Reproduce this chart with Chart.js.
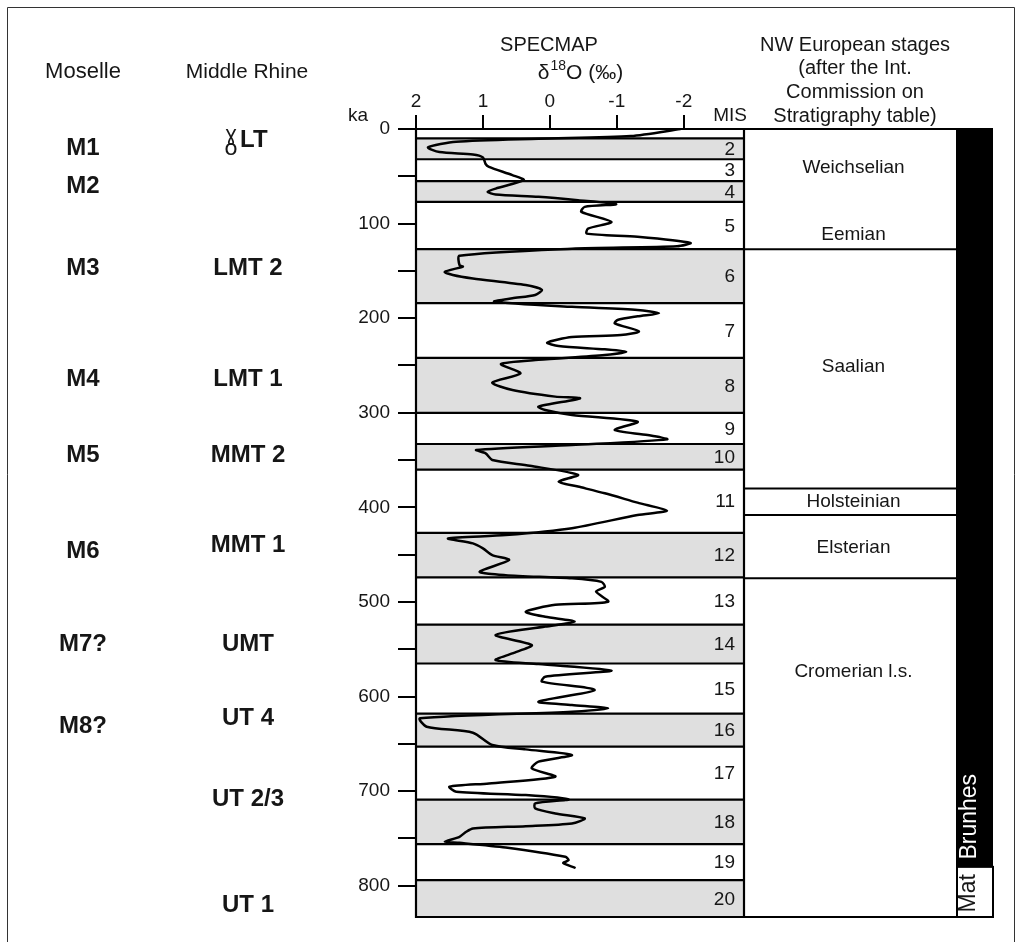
<!DOCTYPE html>
<html><head><meta charset="utf-8">
<script src="https://cdn.jsdelivr.net/npm/chart.js@4.4.1/dist/chart.umd.min.js"></script>
<style>html,body{margin:0;padding:0;background:#fff;overflow:hidden}canvas{display:block}</style>
</head><body>
<canvas id="c" width="1022" height="942"></canvas>
<script>
// ---- data ----
const ageKa = [0,7.4,10.2,13.4,19.4,24.4,26.9,30,37,40,48.8,54,63,66.4,69.3,71.7,75.3,79.5,82.3,87.6,98.2,105.3,110.6,114,120.5,124,126.5,134,
  144,145.5,151,154.3,158,165,170,175.5,179,182.5,188,191.3,194.8,198,201.9,205.4,214,217.8,220,225.9,229.4,232.9,235.4,239,244,248.4,258.3,268,275.9,282.9,284.7,293.5,297,302.3,309.4,318.2,323.5,328.1,334,339.3,342.9,349.9,
  356,365.6,372.8,378,385.1,395,403.5,408,422,429.3,432.8,438,443.3,450.4,455.7,468,471.6,475,478.7,484,489,499.7,503,510.3,515.6,520.8,526,535,545.5,554.3,561.4,565.6,572.5,
  579,584.2,593,605.4,608.9,612.4,616,623,631.8,638.2,651.2,655.8,661.8,668.8,675.9,684.7,691.8,695.3,700.6,704.1,708.7,712.9,718.2,723.5,728.8,734.1,737,739.4,742.9,748.2,753.5,754.6,759.5,769.4,773,776,780.8];
const d18O = [-1.95,-1.21,0.17,1.4,1.82,1.65,1.15,1.0,0.96,0.91,0.56,0.39,0.81,0.93,0.81,0.17,-0.42,-0.99,-0.52,-0.47,-0.92,-0.57,-0.55,-1.31,-2.1,-1.9,-0.33,1.35,
  1.35,1.3,1.57,1.45,1.15,0.36,0.12,0.22,0.56,0.83,-0.33,-1.31,-1.63,-1.31,-1.01,-0.97,-1.33,-1.06,-0.33,0.04,-0.13,-0.82,-1.14,-0.82,0.17,0.73,0.44,0.86,0.56,-0.08,-0.45,0.17,0.07,-0.33,-1.31,-0.97,-1.46,-1.75,-0.33,1.1,0.96,0.86,
  0.3,-0.42,-0.13,-0.42,-0.82,-1.31,-1.75,-1.31,-0.33,0.66,1.52,1.15,1.0,0.86,0.61,1.05,0.66,-0.33,-0.77,-0.82,-0.69,-0.87,-0.08,0.36,0.07,-0.37,0.07,0.81,0.27,0.56,0.81,0.17,-0.92,
  0.07,0.12,-0.67,0.17,-0.33,-0.87,-0.33,1.94,1.84,1.15,0.86,0.36,-0.33,0.17,0.27,-0.08,0.91,1.5,1.4,0.36,-0.28,0.22,0.22,-0.08,-0.52,-0.33,0.36,1.15,1.25,1.35,1.57,1.35,0.66,-0.23,-0.28,-0.2,-0.37];
const yTickValues = [0,50,100,150,200,250,300,350,400,450,500,550,600,650,700,750,800];
const xTickValues = [2,1,0,-1,-2];
const misBounds = [0,10,32,55,77,127,184,242,300,333,360,427,474,524,565,618,653,709,756,794,833];
const misNames = ['','2','3','4','5','6','7','8','9','10','11','12','13','14','15','16','17','18','19','20'];
const stageBounds = [127,380,408,475];
const stageNames = ['Weichselian','Eemian','Saalian','Holsteinian','Elsterian','Cromerian l.s.'];
const stageLabelAge = [41,112,251,394,443,574];
const moselleNames = ['M1','M2','M3','M4','M5','M6','M7?','M8?'];
const moselleAge = [21,61,147,265,345,447,545,631];
const rhineNames = ['LT','LMT 2','LMT 1','MMT 2','MMT 1','UMT','UT 4','UT 2/3','UT 1'];
const rhineAge = [13,147,265,345,440,545,623,709,821];
const chronNames = ['Brunhes','Mat'];
const chronBounds = [0,780,833];
const chronLabelAge = [727,808];

// ---- drawing ----
const FONT = '"Liberation Sans", Arial, Helvetica, sans-serif';
const INK = '#161616';
function txt(ctx, s, x, y, size, opts = {}) {
  ctx.save();
  ctx.font = (opts.bold ? 'bold ' : '') + size + 'px ' + (opts.family || FONT);
  ctx.fillStyle = opts.color || INK;
  ctx.textAlign = opts.align || 'center';
  ctx.textBaseline = opts.baseline || 'middle';
  if (opts.rotate) { ctx.translate(x, y); ctx.rotate(opts.rotate); ctx.fillText(s, 0, 0); }
  else ctx.fillText(s, x, y);
  ctx.restore();
}
function hline(ctx, x0, x1, y, w = 2) {
  ctx.beginPath(); ctx.lineWidth = w; ctx.strokeStyle = '#000';
  ctx.moveTo(x0, y); ctx.lineTo(x1, y); ctx.stroke();
}
function vline(ctx, x, y0, y1, w = 2) {
  ctx.beginPath(); ctx.lineWidth = w; ctx.strokeStyle = '#000';
  ctx.moveTo(x, y0); ctx.lineTo(x, y1); ctx.stroke();
}
const STAGE_W = 213, BAR_W = 36;

const decor = {
  id: 'decor',
  beforeDatasetsDraw(chart) {
    const { ctx, chartArea: a, scales: { y } } = chart;
    ctx.save();
    ctx.fillStyle = '#dfdfdf';
    misNames.forEach((n, i) => {
      if ((i + 1) % 2 === 0) {
        const y0 = y.getPixelForValue(misBounds[i]), y1 = y.getPixelForValue(misBounds[i + 1]);
        ctx.fillRect(a.left, y0, a.right - a.left, y1 - y0);
      }
    });
    ctx.restore();
  },
  afterDraw(chart) {
    const { ctx, chartArea: a, scales: { y } } = chart;
    const sx0 = a.right, sx1 = a.right + STAGE_W, bx1 = sx1 + BAR_W;
    ctx.save();
    // outer frame
    ctx.strokeStyle = '#333'; ctx.lineWidth = 1;
    ctx.beginPath(); ctx.moveTo(7.5, 942); ctx.lineTo(7.5, 7.5); ctx.lineTo(1014.5, 7.5); ctx.lineTo(1014.5, 942); ctx.stroke();
    // MIS boundaries
    misBounds.forEach(b => hline(ctx, a.left, a.right, y.getPixelForValue(b), 2.2));
    // stages column lines
    stageBounds.forEach(b => hline(ctx, sx0, sx1, y.getPixelForValue(b), 2));
    hline(ctx, a.left - 1, bx1, a.top, 2.2);
    hline(ctx, a.left - 1, bx1, a.bottom, 2.2);
    vline(ctx, a.left, a.top, a.bottom + 1, 2.2);
    vline(ctx, a.right, a.top, a.bottom + 1, 2.2);
    // polarity bar
    const yb = y.getPixelForValue(chronBounds[1]);
    ctx.fillStyle = '#000';
    ctx.fillRect(sx1, a.top, BAR_W, yb - a.top);
    ctx.fillStyle = '#fff';
    ctx.fillRect(sx1, yb, BAR_W, a.bottom - yb);
    ctx.strokeStyle = '#000'; ctx.lineWidth = 2;
    ctx.strokeRect(sx1, yb, BAR_W, a.bottom - yb);
    vline(ctx, sx1, a.top, a.bottom, 2);
    txt(ctx, chronNames[0], sx1 + 13, y.getPixelForValue(chronLabelAge[0]), 23, { color: '#fff', rotate: -Math.PI / 2 });
    txt(ctx, chronNames[1], sx1 + 12, y.getPixelForValue(chronLabelAge[1]), 23, { rotate: -Math.PI / 2 });
    ctx.restore();
    // MIS labels
    misNames.forEach((n, i) => {
      if (!n) return;
      const yc = (y.getPixelForValue(misBounds[i]) + y.getPixelForValue(misBounds[i + 1])) / 2;
      txt(ctx, n, a.right - 9, yc + 1, 19, { align: 'right' });
    });
    // stage labels
    stageNames.forEach((n, i) => txt(ctx, n, (sx0 + sx1) / 2 + 3, y.getPixelForValue(stageLabelAge[i]), 19));
    // left columns
    moselleNames.forEach((n, i) => txt(ctx, n, 83, y.getPixelForValue(moselleAge[i]), 24, { bold: true }));
    rhineNames.forEach((n, i) => {
      const yy = y.getPixelForValue(rhineAge[i]);
      if (i === 0) {
        txt(ctx, '\u0263', 231, yy, 21, { family: '"DejaVu Sans"', baseline: 'alphabetic' });
        txt(ctx, 'o', 231, yy + 14, 22, { family: '"DejaVu Sans"', baseline: 'alphabetic' });
        txt(ctx, n, 240, yy - 1, 24, { bold: true, align: 'left' });
      } else txt(ctx, n, 248, yy, 24, { bold: true });
    });
    // headers
    txt(ctx, 'Moselle', 83, 72, 22);
    txt(ctx, 'Middle Rhine', 247, 72, 21);
    txt(ctx, 'SPECMAP', 549, 45, 20);
    // delta line
    ctx.save();
    ctx.fillStyle = INK; ctx.textBaseline = 'middle'; ctx.textAlign = 'left';
    const big = '21px ' + FONT, small = '14px ' + FONT;
    ctx.font = big; const w1 = ctx.measureText('\u03B4').width, w3 = ctx.measureText('O (\u2030)').width;
    ctx.font = small; const w2 = ctx.measureText('18').width;
    let x = 580 - (w1 + w2 + w3) / 2;
    ctx.font = big; ctx.fillText('\u03B4', x, 73); x += w1;
    ctx.font = small; ctx.fillText('18', x + 1, 66); x += w2 + 1;
    ctx.font = big; ctx.fillText('O (\u2030)', x, 73);
    ctx.restore();
    txt(ctx, 'ka', 358, 116, 19);
    txt(ctx, 'MIS', 747, 116, 19, { align: 'right' });
    txt(ctx, 'NW European stages', 855, 45, 20);
    txt(ctx, '(after the Int.', 855, 68, 20);
    txt(ctx, 'Commission on', 855, 92, 20);
    txt(ctx, 'Stratigraphy table)', 855, 116, 20);
  }
};

new Chart(document.getElementById('c'), {
  type: 'scatter',
  data: {
    datasets: [{
      data: ageKa.map((k, i) => ({ x: d18O[i], y: k })),
      showLine: true, borderColor: '#000', borderWidth: 2.5, pointRadius: 0, tension: 0.25, fill: false,
      borderJoinStyle: 'round', borderCapStyle: 'round'
    }]
  },
  options: {
    responsive: false, animation: false,
    layout: { padding: { left: 0, right: 278, top: 0, bottom: 25 } },
    plugins: { legend: { display: false }, tooltip: { enabled: false } },
    scales: {
      x: {
        type: 'linear', position: 'top', min: -2.9, max: 2, reverse: true,
        afterFit: s => { s.height = 129; },
        afterBuildTicks: s => { s.ticks = xTickValues.map(v => ({ value: v })); },
        grid: { drawOnChartArea: false, tickLength: 14, color: '#000', lineWidth: 2 },
        border: { display: false },
        ticks: { font: { size: 19, family: FONT }, color: INK, padding: 2, maxRotation: 0, autoSkip: false }
      },
      y: {
        type: 'linear', position: 'left', min: 0, max: 833, reverse: true,
        afterFit: s => { s.width = 416; },
        afterBuildTicks: s => { s.ticks = yTickValues.map(v => ({ value: v })); },
        grid: { drawOnChartArea: false, tickLength: 18, color: '#000', lineWidth: 2 },
        border: { display: false },
        ticks: { font: { size: 19, family: FONT }, color: INK, padding: 8, autoSkip: false,
          callback: v => (v % 100 === 0 ? String(v) : '') }
      }
    }
  },
  plugins: [decor]
});
</script>
</body></html>
